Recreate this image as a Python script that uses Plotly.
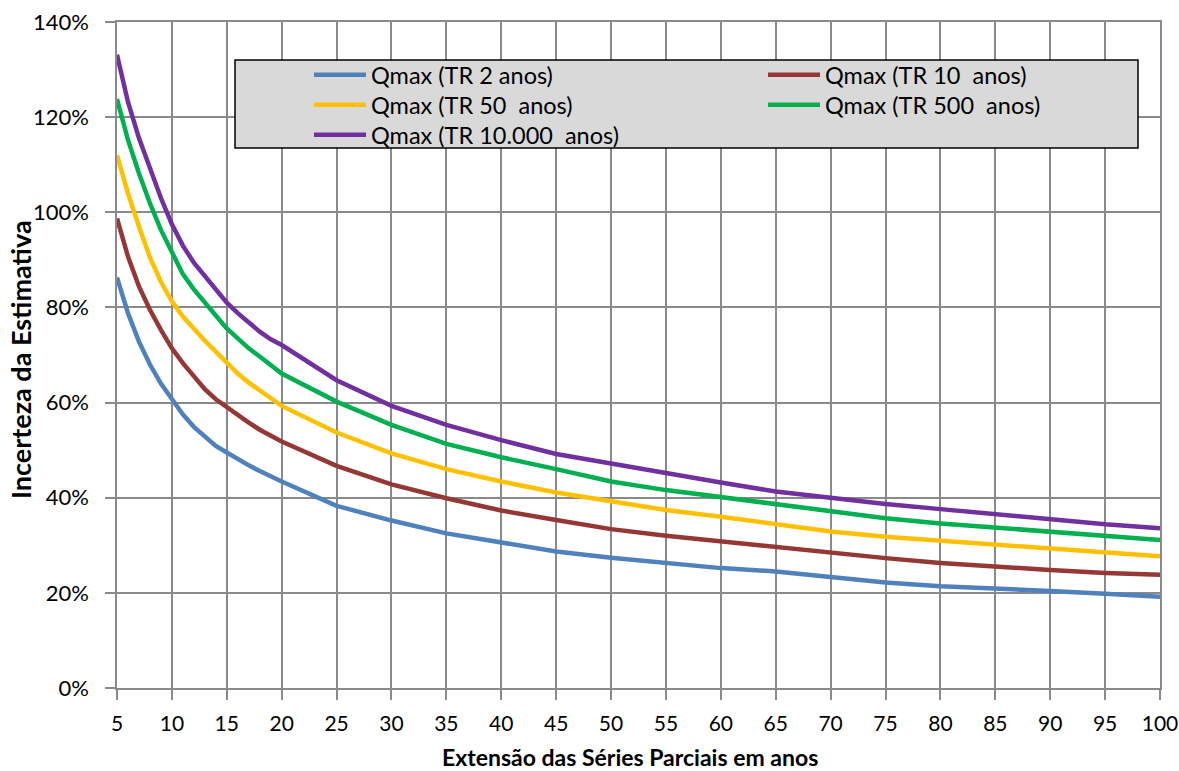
import plotly.graph_objects as go

# Extensão das séries (anos)
anos = [5, 6, 7, 8, 9, 10, 11, 12, 13, 14, 15, 16, 17, 18, 19, 20,
        25, 30, 35, 40, 45, 50, 55, 60, 65, 70, 75, 80, 85, 90, 95, 100]

# Incerteza da estimativa (%)
tr2 = [86.3, 78.8, 72.8, 68.0, 64.0, 60.6, 57.5, 54.9, 52.8, 50.9, 49.5, 48.1, 46.8, 45.6, 44.4, 43.4,
       38.3, 35.2, 32.5, 30.6, 28.7, 27.4, 26.2, 25.2, 24.5, 23.4, 22.2, 21.4, 21.0, 20.4, 19.8, 19.2]
tr10 = [98.7, 90.7, 84.4, 79.5, 75.3, 71.4, 68.3, 65.4, 62.8, 60.7, 59.0, 57.3, 55.8, 54.3, 53.0, 51.8,
        46.7, 42.8, 39.9, 37.3, 35.3, 33.4, 32.0, 30.8, 29.6, 28.4, 27.3, 26.3, 25.5, 24.8, 24.2, 23.8]
tr50 = [112.0, 104.0, 97.0, 90.5, 85.4, 81.3, 78.1, 75.4, 73.0, 70.7, 68.4, 66.1, 64.2, 62.6, 61.0, 59.3,
        53.7, 49.3, 46.0, 43.4, 41.1, 39.2, 37.4, 36.0, 34.5, 32.9, 31.8, 31.0, 30.1, 29.2, 28.4, 27.7]
tr500 = [123.8, 115.2, 108.2, 101.9, 96.3, 91.6, 87.0, 83.8, 80.9, 78.3, 75.6, 73.5, 71.4, 69.7, 67.9, 66.1,
         60.2, 55.3, 51.3, 48.5, 46.0, 43.4, 41.6, 40.1, 38.5, 37.1, 35.7, 34.6, 33.7, 32.9, 31.8, 31.1]
tr10000 = [133.1, 123.2, 115.6, 109.3, 103.0, 97.5, 93.0, 89.4, 86.5, 83.8, 81.0, 78.8, 76.7, 74.9, 73.3, 72.1,
           64.7, 59.3, 55.3, 52.1, 49.2, 47.2, 45.0, 43.2, 41.3, 39.9, 38.7, 37.6, 36.5, 35.5, 34.4, 33.6]

names = ["Qmax (TR 2 anos)", "Qmax (TR 10\u00a0 anos)", "Qmax (TR 50\u00a0 anos)",
         "Qmax (TR 500\u00a0 anos)", "Qmax (TR 10.000\u00a0 anos)"]
series = [tr2, tr10, tr50, tr500, tr10000]
colors = ["#4f81bd", "#953735", "#ffc000", "#00b050", "#7030a0"]

FONT = "Lato"
GRID = "#8a8a8a"

W, H = 1179, 771
L, R, T, B = 117, 19, 22, 83
pw, ph = W - L - R, H - T - B

def px(xp):
    return (xp - L) / pw

def py(yp):
    return (H - B - yp) / ph

# legend slot (column left px, row centre px) for each series
leg_cols = [309, 763, 309, 763, 309]
leg_rows = [75, 75, 105, 105, 135]
leg_font = dict(family=FONT, size=23.5, color="#000000")

fig = go.Figure()
legend_layouts = {}
for i, (nm, s, c) in enumerate(zip(names, series, colors)):
    key = "legend" if i == 0 else f"legend{i + 1}"
    fig.add_trace(go.Scatter(
        x=anos, y=s, mode="lines", name=nm,
        line=dict(color=c, width=4.5),
        legend=key,
    ))
    legend_layouts[key] = dict(
        x=px(leg_cols[i]), y=py(leg_rows[i] - 22), xanchor="left", yanchor="top",
        bgcolor="rgba(0,0,0,0)", borderwidth=0, font=leg_font, itemwidth=52,
    )

fig.update_layout(
    width=W, height=H,
    margin=dict(l=L, r=R, t=T, b=B, autoexpand=False),
    paper_bgcolor="white", plot_bgcolor="white",
    font=dict(family=FONT, size=18, color="#000000"),
    showlegend=True,
    xaxis=dict(range=[5, 100], tick0=5, dtick=5, showgrid=True, gridcolor=GRID, gridwidth=1.5,
               showline=True, linecolor=GRID, linewidth=1.5, mirror=True, automargin=False,
               ticks="outside", ticklen=10, tickcolor=GRID, tickwidth=1.5, ticklabelstandoff=6,
               tickfont=dict(family=FONT, size=21, color="#000000"), zeroline=False),
    yaxis=dict(range=[0, 140], tick0=0, dtick=20, ticksuffix="%", showgrid=True, gridcolor=GRID,
               gridwidth=1.5, showline=True, linecolor=GRID, linewidth=1.5, mirror=True,
               automargin=False,
               ticks="outside", ticklen=10, tickcolor=GRID, tickwidth=1.5, ticklabelstandoff=12,
               tickfont=dict(family=FONT, size=22, color="#000000"), zeroline=False),
    shapes=[dict(type="rect", xref="paper", yref="paper",
                 x0=px(235), x1=px(1138), y0=py(148), y1=py(60),
                 fillcolor="#d9d9d9", line=dict(color="#000000", width=1.5), layer="above")],
    annotations=[
        dict(text="<b>Extensão das Séries Parciais em anos</b>", xref="paper", yref="paper",
             x=px(630), y=py(757), xanchor="center", yanchor="middle", showarrow=False,
             font=dict(family=FONT, size=23, color="#000000")),
        dict(text="<b>Incerteza da Estimativa</b>", xref="paper", yref="paper",
             x=px(20), y=py(360), xanchor="center", yanchor="middle", showarrow=False,
             textangle=-90, font=dict(family=FONT, size=27, color="#000000")),
    ],
)
fig.update_layout(**legend_layouts)

fig.write_html("out.html", config={"displayModeBar": False},
               post_script="document.body.style.margin='0px';")
